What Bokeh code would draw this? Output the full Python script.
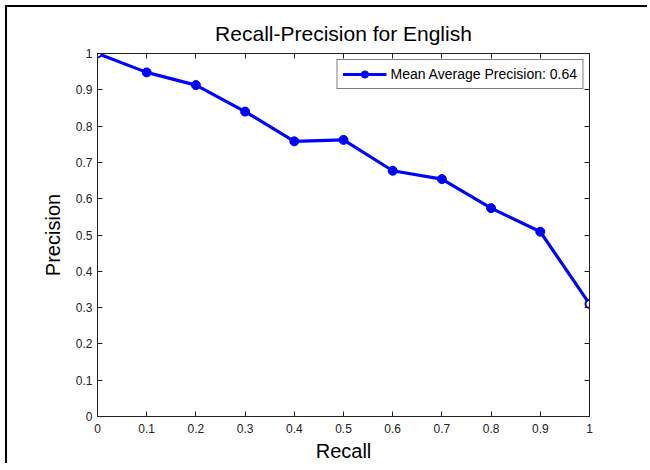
from bokeh.plotting import figure
from bokeh.models import LinearAxis, FixedTicker, Legend, LegendItem
from bokeh.embed import file_html
from bokeh.resources import INLINE

# ---- data ----
recall = [0.0, 0.1, 0.2, 0.3, 0.4, 0.5, 0.6, 0.7, 0.8, 0.9, 1.0]
precision = [1.0, 0.948, 0.913, 0.840, 0.758, 0.762, 0.677, 0.654, 0.574, 0.509, 0.310]
x_ticks = [0.0, 0.1, 0.2, 0.3, 0.4, 0.5, 0.6, 0.7, 0.8, 0.9, 1.0]
x_tick_labels = ["0", "0.1", "0.2", "0.3", "0.4", "0.5", "0.6", "0.7", "0.8", "0.9", "1"]
y_ticks = [0.0, 0.1, 0.2, 0.3, 0.4, 0.5, 0.6, 0.7, 0.8, 0.9, 1.0]
y_tick_labels = ["0", "0.1", "0.2", "0.3", "0.4", "0.5", "0.6", "0.7", "0.8", "0.9", "1"]
title_text = "Recall-Precision for English"
x_label = "Recall"
y_label = "Precision"
legend_label = "Mean Average Precision: 0.64"

FONT = "Liberation Sans"
BLUE = "#0000ff"
W, H = 642, 458

p = figure(width=W, height=H, x_range=(0, 1), y_range=(0, 1),
           output_backend="svg", toolbar_location=None,
           min_border_left=90, min_border_right=60,
           min_border_top=46, min_border_bottom=49,
           title=title_text)
# page frame of the original picture (left and top edges)
p.styles = {"position": "absolute", "left": "5px", "top": "5px",
            "border-left": "2px solid black", "border-top": "2px solid black"}

p.background_fill_color = "white"
p.border_fill_color = "white"
p.outline_line_color = "#222222"
p.xgrid.visible = False
p.ygrid.visible = False

p.title.text_font = FONT
p.title.text_font_size = "21px"
p.title.text_font_style = "normal"
p.title.align = "center"
p.title.text_color = "black"
p.title.standoff = 17

def style_axis(ax, ticks, labels, show_labels=True):
    ax.ticker = FixedTicker(ticks=ticks)
    ax.major_tick_in = 5
    ax.major_tick_out = 0
    ax.minor_tick_line_color = None
    ax.axis_line_color = "#222222"
    ax.major_tick_line_color = "#222222"
    ax.major_label_text_font = FONT
    ax.major_label_text_color = "#222222"
    ax.major_label_text_font_size = "12px"
    if show_labels:
        ax.major_label_overrides = dict(zip(ticks, labels))
    else:
        ax.major_label_overrides = {t: "" for t in ticks}
        ax.major_label_standoff = 0

style_axis(p.xaxis[0], x_ticks, x_tick_labels)
style_axis(p.yaxis[0], y_ticks, y_tick_labels)
p.xaxis[0].major_label_standoff = 7
p.yaxis[0].major_label_standoff = 5

p.xaxis.axis_label = x_label
p.yaxis.axis_label = y_label
for ax in (p.xaxis[0], p.yaxis[0]):
    ax.axis_label_text_font = FONT
    ax.axis_label_text_font_size = "20px"
    ax.axis_label_text_font_style = "normal"
    ax.axis_label_text_color = "black"
p.xaxis[0].axis_label_standoff = 4
p.yaxis[0].axis_label_standoff = 9

top_ax = LinearAxis()
style_axis(top_ax, x_ticks, x_tick_labels, show_labels=False)
p.add_layout(top_ax, "above")
right_ax = LinearAxis()
style_axis(right_ax, y_ticks, y_tick_labels, show_labels=False)
p.add_layout(right_ax, "right")

line_r = p.line(recall, precision, line_color=BLUE, line_width=3.2)
dots_r = p.scatter(recall[1:-1], precision[1:-1], size=9, marker="circle",
                   fill_color=BLUE, line_color=BLUE)
ends_r = p.scatter([recall[0], recall[-1]], [precision[0], precision[-1]], size=8,
                   marker="circle", fill_color="white", line_color=BLUE, line_width=2)

legend = Legend(items=[LegendItem(label=legend_label, renderers=[line_r, dots_r])],
                location="top_right", margin=6, padding=5, spacing=0,
                glyph_width=44, glyph_height=18, label_height=18, label_standoff=4,
                label_text_font=FONT, label_text_font_size="14px",
                label_text_color="black",
                border_line_color="black", border_line_width=1,
                background_fill_color="white", background_fill_alpha=1)
p.add_layout(legend)

open("out.html", "w").write(file_html(p, INLINE))
